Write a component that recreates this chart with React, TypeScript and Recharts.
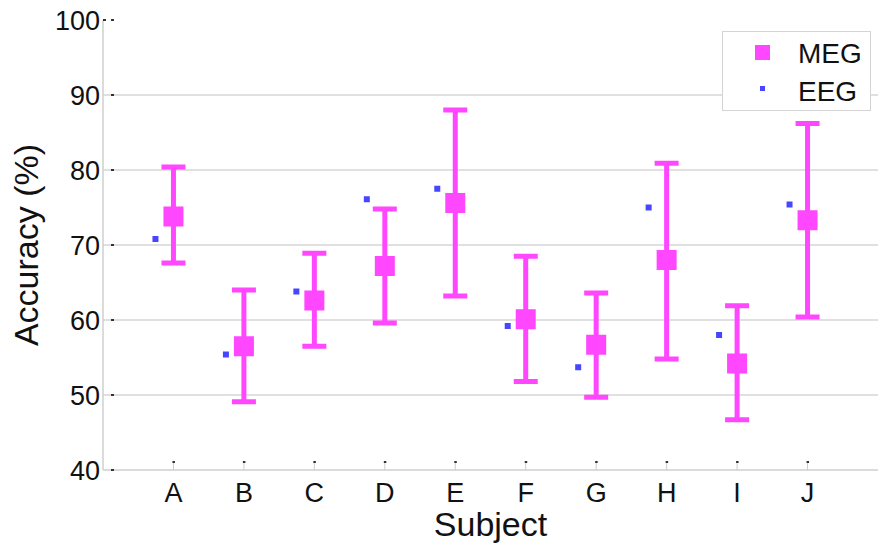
import React from 'react';
import { ScatterChart, Scatter, XAxis, YAxis, ErrorBar, ReferenceLine, Label } from 'recharts';

const subjects = ['A', 'B', 'C', 'D', 'E', 'F', 'G', 'H', 'I', 'J'];
const megMean = [73.8, 56.5, 62.6, 67.2, 75.6, 60.1, 56.7, 68.0, 54.2, 73.3];
const megHigh = [80.4, 64.0, 68.9, 74.8, 88.0, 68.5, 63.6, 80.9, 61.9, 86.2];
const megLow = [67.6, 49.1, 56.5, 59.6, 63.2, 51.8, 49.7, 54.8, 46.7, 60.4];
const eegMean = [70.8, 55.4, 63.8, 76.1, 77.5, 59.2, 53.7, 75.0, 58.0, 75.4];
const yTicks = [40, 50, 60, 70, 80, 90, 100];
const gridValues = [50, 60, 70, 80, 90];

const FONT = '"Liberation Sans", Arial, sans-serif';
const MAGENTA = '#ff47ff';
const BLUE = '#4646ff';

const megData = subjects.map((s, i) => ({
  x: i + 1,
  y: megMean[i],
  err: [megMean[i] - megLow[i], megHigh[i] - megMean[i]],
}));
const eegData = subjects.map((s, i) => ({ x: i + 1, y: eegMean[i] }));

const MegShape = (props: any) => {
  const { cx, cy } = props;
  return <rect x={cx - 10} y={cy - 10} width={20} height={20} fill={MAGENTA} />;
};

// EEG markers sit a little to the left of the subject position
const EegShape = (props: any) => {
  const { cx, cy } = props;
  return <rect x={cx - 21} y={cy - 3} width={6} height={6} fill={BLUE} />;
};

const YTick = (props: any) => {
  const { x, y, payload } = props;
  return (
    <g>
      <text x={x} y={y + 10} textAnchor="end" fontSize={27} fontFamily={FONT} fill="#111">
        {payload.value}
      </text>
      <rect x={x + 11} y={y - 1} width={3} height={2} fill="#333" />
      {payload.value === 100 && <rect x={x + 3} y={y - 1} width={3} height={2} fill="#333" />}
    </g>
  );
};

const XTick = (props: any) => {
  const { x, y, payload } = props;
  return (
    <g>
      <line x1={x} x2={x} y1={y - 8} y2={y} stroke="#ccc" strokeWidth={1} />
      <rect x={x - 1} y={y - 9} width={2.5} height={2} fill="#333" />
      <text x={x} y={y + 32} textAnchor="middle" fontSize={27} fontFamily={FONT} fill="#111">
        {subjects[payload.value - 1]}
      </text>
    </g>
  );
};

const LegendBox = () => (
  <div
    style={{
      position: 'absolute',
      left: 722,
      top: 31,
      width: 149,
      height: 80,
      boxSizing: 'border-box',
      border: '1px solid #d4d4d4',
      background: '#fff',
      fontFamily: FONT,
      color: '#111',
    }}
  >
    <span style={{ position: 'absolute', left: 32, top: 13, width: 15, height: 15, background: MAGENTA }} />
    <span style={{ position: 'absolute', left: 75, top: 8, fontSize: 28, lineHeight: '28px' }}>MEG</span>
    <span style={{ position: 'absolute', left: 37, top: 54, width: 5, height: 5, background: BLUE }} />
    <span style={{ position: 'absolute', left: 75, top: 46, fontSize: 28, lineHeight: '28px' }}>EEG</span>
  </div>
);

export default function App() {
  return (
    <div style={{ position: 'absolute', left: 0, top: 0, width: 892, height: 555, background: '#fff' }}>
      <ScatterChart width={892} height={555} margin={{ top: 20, right: 14, bottom: 0, left: 0 }}>
        {gridValues.map((v) => (
          <ReferenceLine key={v} y={v} stroke="#d6d6d6" strokeWidth={1.5} />
        ))}
        <XAxis
          type="number"
          dataKey="x"
          domain={[0, 11]}
          ticks={subjects.map((s, i) => i + 1)}
          interval={0}
          height={85}
          tickSize={0}
          tickMargin={0}
          tickLine={false}
          axisLine={{ stroke: '#cfcfcf', strokeWidth: 1.5 }}
          tick={<XTick />}
        >
          <Label
            value="Subject"
            position="insideBottom"
            offset={19}
            style={{ fontSize: 34, fontFamily: FONT, fill: '#111' }}
          />
        </XAxis>
        <YAxis
          type="number"
          dataKey="y"
          domain={[40, 100]}
          ticks={yTicks}
          interval={0}
          width={103}
          tickSize={0}
          tickMargin={3}
          tickLine={false}
          axisLine={{ stroke: '#cfcfcf', strokeWidth: 1.5 }}
          tick={<YTick />}
        >
          <Label
            value="Accuracy (%)"
            angle={-90}
            position="insideLeft"
            offset={26}
            style={{ fontSize: 34, fontFamily: FONT, fill: '#111', textAnchor: 'middle' }}
          />
        </YAxis>
        <Scatter name="MEG" data={megData} fill={MAGENTA} shape={<MegShape />} isAnimationActive={false}>
          <ErrorBar dataKey="err" direction="y" width={12} strokeWidth={5} stroke={MAGENTA} />
        </Scatter>
        <Scatter name="EEG" data={eegData} fill={BLUE} shape={<EegShape />} isAnimationActive={false} />
      </ScatterChart>
      <LegendBox />
    </div>
  );
}
